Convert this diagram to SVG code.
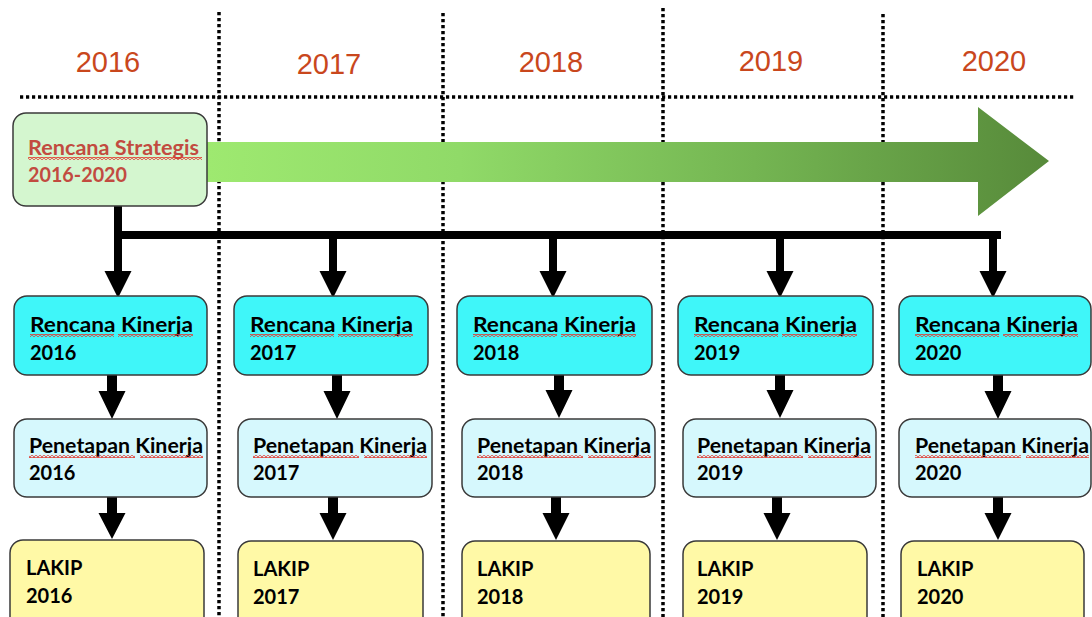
<svg xmlns="http://www.w3.org/2000/svg" width="1092" height="617" viewBox="0 0 1092 617">
<defs>
<linearGradient id="grn" x1="207" y1="0" x2="1049" y2="0" gradientUnits="userSpaceOnUse">
<stop offset="0" stop-color="#9ee970"/>
<stop offset="0.3" stop-color="#90da68"/>
<stop offset="0.65" stop-color="#74b552"/>
<stop offset="1" stop-color="#578a3a"/>
</linearGradient>
<pattern id="sq" width="4" height="3" patternUnits="userSpaceOnUse">
<path d="M0 2.5 L2 0.5 L4 2.5" fill="none" stroke="#e2392f" stroke-width="1.1"/>
</pattern>
<style>
.dot{stroke:#000;stroke-width:3.5;stroke-dasharray:3.2 2.8;fill:none}
.yr{font-family:"Liberation Sans",Arial,sans-serif;font-size:29px;fill:#c9471d;text-anchor:middle}
.box{stroke:#3a3a3a;stroke-width:1.5}
.rs{fill:#d4f6cf}
.rk{fill:#3ff6f9}
.pk{fill:#d6f8fd}
.lk{fill:#fff9a6}
.t{font-family:Lato,"Open Sans",sans-serif;font-weight:bold;font-size:20px;fill:#000}
.tr{fill:#c24b40}
.sq{fill:url(#sq)}
.bar{stroke:#000;stroke-width:8;fill:none}
.ah{fill:#000}
</style>
</defs>
<rect width="1092" height="617" fill="#fff"/>
<g id="grid">
<line class="dot" x1="219" y1="12" x2="219" y2="617"/>
<line class="dot" x1="443" y1="13" x2="443" y2="617"/>
<line class="dot" x1="663" y1="8" x2="663" y2="617"/>
<line class="dot" x1="883" y1="14" x2="883" y2="617"/>
<line class="dot" x1="20" y1="97" x2="1075" y2="97"/>
</g>
<g id="years">
<text class="yr" x="108" y="72">2016</text>
<text class="yr" x="329" y="74">2017</text>
<text class="yr" x="551" y="72">2018</text>
<text class="yr" x="771" y="71">2019</text>
<text class="yr" x="994" y="71">2020</text>
</g>
<g id="timeline-arrow">
<path d="M207 142 H978 V107 L1049 161 L978 216 V182 H207 Z" fill="url(#grn)"/>
</g>
<g id="connectors">
<path class="bar" d="M118 206 V235 M114 235 H1001"/>
<path class="bar" d="M118 235 V272 M333 235 V272 M553 235 V272 M780 235 V272 M993 235 V272"/>
<path class="ah" d="M104.5 271 H131.5 L118 298 Z M319.5 271 H346.5 L333 298 Z M539.5 271 H566.5 L553 298 Z M766.5 271 H793.5 L780 298 Z M979.5 271 H1006.5 L993 298 Z"/>
<path class="ah" d="M107 375 H117 V391 H125.5 L112 419 L98.5 391 H107 Z"/>
<path class="ah" d="M332 375 H342 V391 H350.5 L337 419 L323.5 391 H332 Z"/>
<path class="ah" d="M554 363 H564 V390 H572.5 L559 418 L545.5 390 H554 Z"/>
<path class="ah" d="M775 363 H785 V390 H793.5 L780 418 L766.5 390 H775 Z"/>
<path class="ah" d="M993 375 H1003 V391 H1011.5 L998 419 L984.5 391 H993 Z"/>
<path class="ah" d="M107 497 H117 V513 H125.5 L112 539 L98.5 513 H107 Z"/>
<path class="ah" d="M328 497 H338 V513 H346.5 L333 540 L319.5 513 H328 Z"/>
<path class="ah" d="M551 497 H561 V513 H569.5 L556 540 L542.5 513 H551 Z"/>
<path class="ah" d="M772 497 H782 V513 H790.5 L777 540 L763.5 513 H772 Z"/>
<path class="ah" d="M993 497 H1003 V513 H1011.5 L998 540 L984.5 513 H993 Z"/>
</g>
<g id="rencana-strategis">
<rect class="box rs" x="13" y="113" width="194" height="93" rx="13"/>
<text class="t tr" x="28" y="155" textLength="171" lengthAdjust="spacingAndGlyphs">Rencana Strategis</text>
<text class="t tr" x="28" y="182" textLength="99" lengthAdjust="spacingAndGlyphs">2016-2020</text>
<rect class="sq" x="28" y="157" width="174" height="3"/>
</g>
<g id="rk-2016">
<rect class="box rk" x="14" y="296" width="193" height="79" rx="13"/>
<text class="t" x="30" y="332" textLength="163" lengthAdjust="spacingAndGlyphs">Rencana Kinerja</text>
<text class="t" x="30" y="360">2016</text>
<rect class="sq" x="30" y="334" width="84" height="3"/><rect class="sq" x="118" y="334" width="75" height="3"/>
</g>
<g id="rk-2017">
<rect class="box rk" x="234" y="296" width="194" height="79" rx="13"/>
<text class="t" x="250" y="332" textLength="163" lengthAdjust="spacingAndGlyphs">Rencana Kinerja</text>
<text class="t" x="250" y="360">2017</text>
<rect class="sq" x="250" y="334" width="84" height="3"/><rect class="sq" x="338" y="334" width="75" height="3"/>
</g>
<g id="rk-2018">
<rect class="box rk" x="457" y="296" width="195" height="79" rx="13"/>
<text class="t" x="473" y="332" textLength="163" lengthAdjust="spacingAndGlyphs">Rencana Kinerja</text>
<text class="t" x="473" y="360">2018</text>
<rect class="sq" x="473" y="334" width="84" height="3"/><rect class="sq" x="561" y="334" width="75" height="3"/>
</g>
<g id="rk-2019">
<rect class="box rk" x="678" y="296" width="195" height="79" rx="13"/>
<text class="t" x="694" y="332" textLength="163" lengthAdjust="spacingAndGlyphs">Rencana Kinerja</text>
<text class="t" x="694" y="360">2019</text>
<rect class="sq" x="694" y="334" width="84" height="3"/><rect class="sq" x="782" y="334" width="75" height="3"/>
</g>
<g id="rk-2020">
<rect class="box rk" x="899" y="296" width="192" height="79" rx="13"/>
<text class="t" x="915" y="332" textLength="163" lengthAdjust="spacingAndGlyphs">Rencana Kinerja</text>
<text class="t" x="915" y="360">2020</text>
<rect class="sq" x="915" y="334" width="84" height="3"/><rect class="sq" x="1003" y="334" width="75" height="3"/>
</g>
<g id="pk-2016">
<rect class="box pk" x="14" y="419" width="193" height="78" rx="13"/>
<text class="t" x="29" y="453" textLength="174" lengthAdjust="spacingAndGlyphs">Penetapan Kinerja</text>
<text class="t" x="29" y="480">2016</text>
<rect class="sq" x="29" y="455" width="106" height="3"/><rect class="sq" x="140" y="455" width="63" height="3"/>
</g>
<g id="pk-2017">
<rect class="box pk" x="238" y="419" width="194" height="78" rx="13"/>
<text class="t" x="253" y="453" textLength="174" lengthAdjust="spacingAndGlyphs">Penetapan Kinerja</text>
<text class="t" x="253" y="480">2017</text>
<rect class="sq" x="253" y="455" width="106" height="3"/><rect class="sq" x="364" y="455" width="63" height="3"/>
</g>
<g id="pk-2018">
<rect class="box pk" x="462" y="419" width="193" height="78" rx="13"/>
<text class="t" x="477" y="453" textLength="174" lengthAdjust="spacingAndGlyphs">Penetapan Kinerja</text>
<text class="t" x="477" y="480">2018</text>
<rect class="sq" x="477" y="455" width="106" height="3"/><rect class="sq" x="588" y="455" width="63" height="3"/>
</g>
<g id="pk-2019">
<rect class="box pk" x="683" y="419" width="193" height="78" rx="13"/>
<text class="t" x="697" y="453" textLength="174" lengthAdjust="spacingAndGlyphs">Penetapan Kinerja</text>
<text class="t" x="697" y="480">2019</text>
<rect class="sq" x="697" y="455" width="106" height="3"/><rect class="sq" x="808" y="455" width="63" height="3"/>
</g>
<g id="pk-2020">
<rect class="box pk" x="899" y="419" width="192" height="78" rx="13"/>
<text class="t" x="915" y="453" textLength="174" lengthAdjust="spacingAndGlyphs">Penetapan Kinerja</text>
<text class="t" x="915" y="480">2020</text>
<rect class="sq" x="915" y="455" width="106" height="3"/><rect class="sq" x="1026" y="455" width="63" height="3"/>
</g>
<g id="lakip-2016">
<rect class="box lk" x="10" y="540" width="194" height="90" rx="13"/>
<text class="t" x="26" y="575">LAKIP</text>
<text class="t" x="26" y="603">2016</text>
</g>
<g id="lakip-2017">
<rect class="box lk" x="238" y="541" width="185" height="90" rx="13"/>
<text class="t" x="253" y="576">LAKIP</text>
<text class="t" x="253" y="604">2017</text>
</g>
<g id="lakip-2018">
<rect class="box lk" x="462" y="541" width="188" height="90" rx="13"/>
<text class="t" x="477" y="576">LAKIP</text>
<text class="t" x="477" y="604">2018</text>
</g>
<g id="lakip-2019">
<rect class="box lk" x="683" y="541" width="184" height="90" rx="13"/>
<text class="t" x="697" y="576">LAKIP</text>
<text class="t" x="697" y="604">2019</text>
</g>
<g id="lakip-2020">
<rect class="box lk" x="901" y="541" width="183" height="90" rx="13"/>
<text class="t" x="917" y="576">LAKIP</text>
<text class="t" x="917" y="604">2020</text>
</g>
</svg>
